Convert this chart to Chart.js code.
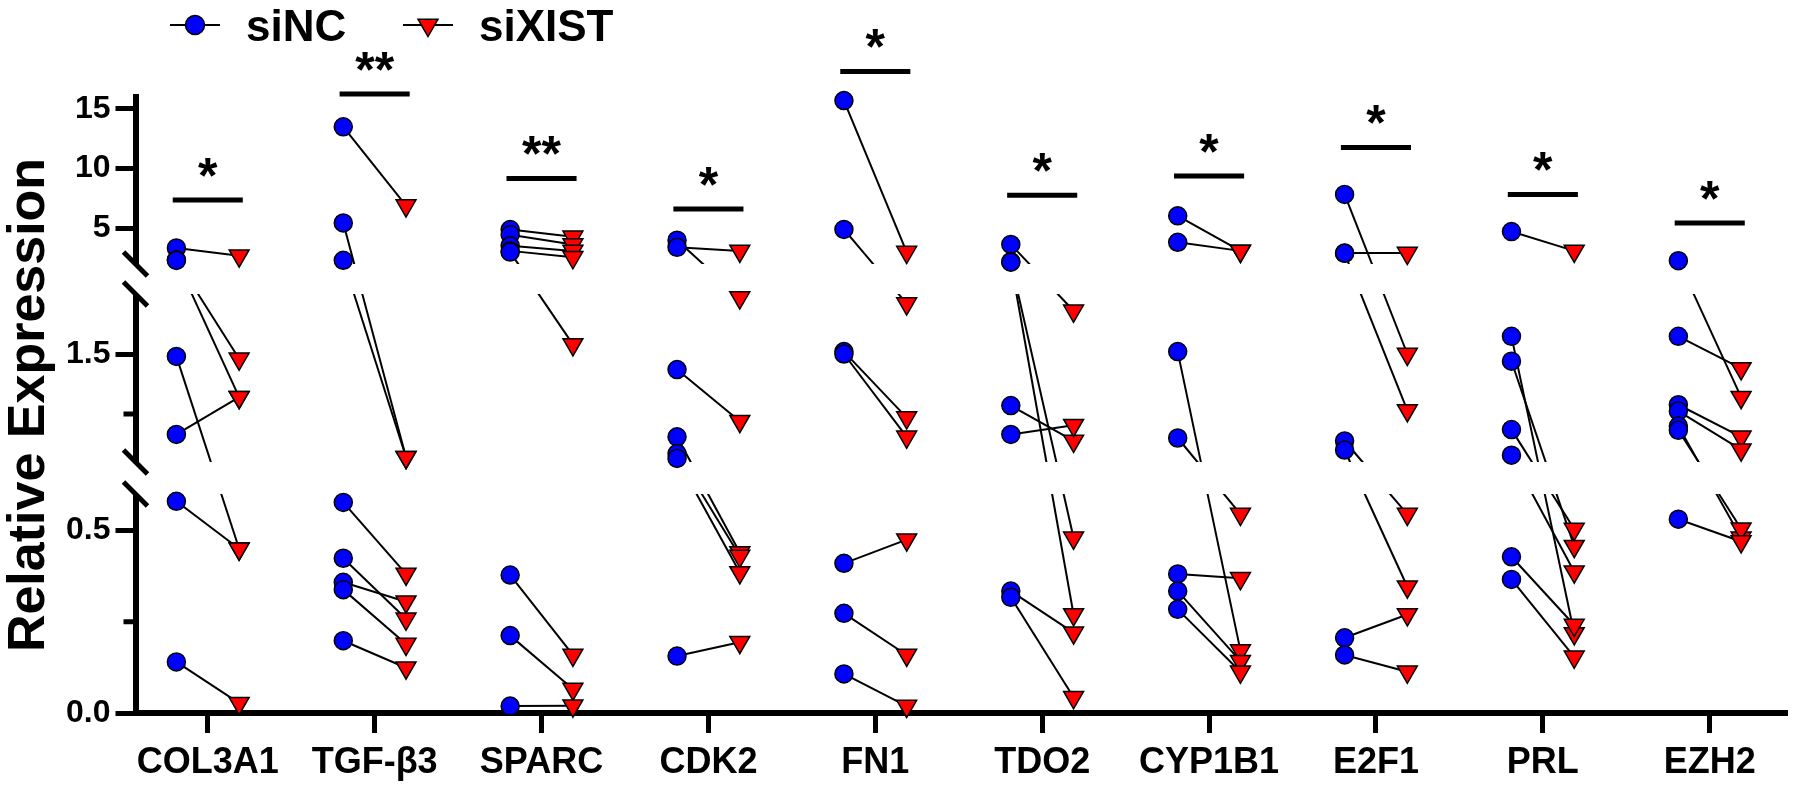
<!DOCTYPE html>
<html>
<head>
<meta charset="utf-8">
<script src="https://cdn.jsdelivr.net/npm/chart.js@4.4.1/dist/chart.umd.min.js"></script>
<style>
  html, body { margin: 0; padding: 0; background: #fff; }
  #wrap { width: 1800px; height: 787px; position: relative; }
</style>
</head>
<body>
<div id="wrap"><canvas id="myChart"></canvas></div>
<script>
// genes on the x axis
const genes = ['COL3A1', 'TGF-β3', 'SPARC', 'CDK2', 'FN1', 'TDO2', 'CYP1B1', 'E2F1', 'PRL', 'EZH2'];

// paired values: siNC[g][k] is joined to siXIST[g][k]
const siNC = [
  [3.34, 2.35, 2.3, 1.48, 0.83, 0.58, 0.14],
  [13.5, 5.44, 2.31, 0.577, 0.424, 0.358, 0.338, 0.198],
  [4.89, 4.46, 3.53, 3.1, 3.0, 0.378, 0.212, 0.019],
  [4.0, 3.4, 1.37, 0.81, 0.67, 0.63, 0.156],
  [15.7, 4.9, 1.52, 1.5, 0.41, 0.273, 0.107],
  [3.64, 2.2, 2.15, 1.07, 0.83, 0.334, 0.317],
  [6.04, 3.82, 1.52, 0.8, 0.381, 0.334, 0.284],
  [7.83, 2.92, 2.9, 0.775, 0.7, 0.206, 0.159],
  [4.72, 1.647, 1.44, 0.87, 0.657, 0.428, 0.366],
  [2.28, 1.647, 1.077, 1.024, 0.899, 0.864, 0.531]
];
const siXIST = [
  [2.7, 1.46, 1.14, 0.45, 1.14, 0.45, 0.027],
  [6.9, 0.64, 0.64, 0.381, 0.258, 0.305, 0.189, 0.124],
  [4.28, 3.64, 3.1, 2.56, 1.58, 0.159, 0.066, 0.02],
  [1.97, 3.1, 0.94, 0.44, 0.43, 0.385, 0.194],
  [3.0, 1.92, 0.97, 0.81, 0.475, 0.159, 0.019],
  [1.86, 0.48, 0.27, 0.776, 0.907, 0.22, 0.043],
  [3.1, 3.1, 0.171, 0.545, 0.369, 0.142, 0.113],
  [1.5, 2.92, 1.03, 0.545, 0.346, 0.27, 0.113],
  [3.1, 0.218, 0.457, 0.504, 0.387, 0.241, 0.154],
  [1.14, 1.38, 0.81, 0.703, 0.48, 0.505, 0.47]
];

// y ticks (labelled) and the small unlabelled ones
const yTicks = [0, 0.5, 1.5, 5, 10, 15];
const yMinorTicks = [0.25, 1];

// significance bars: height (in axis units) and mark
const sigLevel = [7.36, 16.25, 9.17, 6.61, 18.14, 7.76, 9.38, 11.77, 7.83, 5.43];
const sigMarks = ['*', '**', '**', '*', '*', '*', '*', '*', '*', '*'];

const FONT = "'Liberation Sans', Arial, sans-serif";
const OFFSET = 0.188;   // siNC left of the gene, siXIST right of it
const NC_COLOR = '#0000FF';
const XIST_COLOR = '#FF0000';

// y axis cut into segments, each one linear, with gaps between them
class SegmentedScale extends Chart.LinearScale {
  bands() {
    const segs = this.options.segments;
    let total = 0;
    for (const s of segs) total += s.size + (s.gap || 0);
    const unit = (this.bottom - this.top) / total;
    let y = this.bottom;
    const out = [];
    for (const s of segs) {
      const b = { from: s.from, to: s.to, bottom: y, top: y - s.size * unit };
      y = b.top - (s.gap || 0) * unit;
      out.push(b);
    }
    return out;
  }
  getPixelForValue(value) {
    if (value === null || value === undefined) return NaN;
    const bands = this.bands();
    let b = bands[bands.length - 1];
    for (const band of bands) {
      if (value <= band.to) { b = band; break; }
    }
    return b.bottom - (value - b.from) / (b.to - b.from) * (b.bottom - b.top);
  }
  getValueForPixel(pixel) {
    const bands = this.bands();
    for (const b of bands) {
      if (pixel >= b.top) return b.from + (b.bottom - pixel) / (b.bottom - b.top) * (b.to - b.from);
    }
    const b = bands[bands.length - 1];
    return b.from + (b.bottom - pixel) / (b.bottom - b.top) * (b.to - b.from);
  }
}
SegmentedScale.id = 'segmented';
SegmentedScale.defaults = Chart.LinearScale.defaults;
Chart.register(SegmentedScale);

// one line per pair
const pairLines = [];
genes.forEach((g, i) => {
  siNC[i].forEach((v, k) => {
    pairLines.push({
      type: 'line',
      isPair: true,
      data: [{ x: i - OFFSET, y: v }, { x: i + OFFSET, y: siXIST[i][k] }],
      borderColor: '#000',
      borderWidth: 2,
      pointRadius: 0,
      order: 1
    });
  });
});

const ncPoints = genes.flatMap((g, i) => siNC[i].map(v => ({ x: i - OFFSET, y: v })));
const xistPoints = genes.flatMap((g, i) => siXIST[i].map(v => ({ x: i + OFFSET, y: v })));

const pointSets = [
  {
    type: 'scatter', label: 'siXIST', data: xistPoints,
    pointStyle: 'triangle', pointRotation: 180, pointRadius: 11.5,
    pointBackgroundColor: XIST_COLOR, pointBorderColor: '#000', pointBorderWidth: 1.5,
    clip: false, order: 0
  },
  {
    type: 'scatter', label: 'siNC', data: ncPoints,
    pointStyle: 'circle', pointRadius: 9,
    pointBackgroundColor: NC_COLOR, pointBorderColor: '#000', pointBorderWidth: 1.5,
    clip: false, order: 0
  }
];

// gaps in the axis, break marks, minor ticks, significance bars and legend
const breaksPlugin = {
  id: 'breaks',
  beforeDatasetsDraw(chart) {
    const y = chart.scales.y, ctx = chart.ctx, bands = y.bands();
    ctx.save();
    ctx.fillStyle = '#fff';
    for (let k = 0; k < bands.length - 1; k++) {
      ctx.fillRect(y.right - 25, bands[k + 1].bottom, 32, bands[k].top - bands[k + 1].bottom);
    }
    ctx.restore();
  },
  beforeDatasetDraw(chart, args) {
    if (!chart.data.datasets[args.index].isPair) return;
    const ctx = chart.ctx, bands = chart.scales.y.bands();
    ctx.save();
    ctx.beginPath();
    bands.forEach((b, k) => {
      const top = k === bands.length - 1 ? 0 : b.top;
      const bottom = k === 0 ? chart.height : b.bottom;
      ctx.rect(0, top, chart.width, bottom - top);
    });
    ctx.clip();
  },
  afterDatasetDraw(chart, args) {
    if (chart.data.datasets[args.index].isPair) chart.ctx.restore();
  },
  afterDraw(chart) {
    const ctx = chart.ctx, x = chart.scales.x, y = chart.scales.y;
    const bands = y.bands();
    ctx.save();
    ctx.strokeStyle = '#000';
    ctx.fillStyle = '#000';

    // minor ticks
    ctx.lineWidth = 5;
    yMinorTicks.forEach(v => {
      const py = y.getPixelForValue(v);
      ctx.beginPath();
      ctx.moveTo(y.right - 12, py);
      ctx.lineTo(y.right - 2, py);
      ctx.stroke();
    });

    // break marks
    const cx = y.right;
    for (let k = 0; k < bands.length - 1; k++) {
      [bands[k].top, bands[k + 1].bottom].forEach(cy => {
        ctx.beginPath();
        ctx.moveTo(cx - 12, cy - 12);
        ctx.lineTo(cx + 12, cy + 12);
        ctx.stroke();
      });
    }

    // significance bars
    ctx.textAlign = 'center';
    ctx.textBaseline = 'alphabetic';
    ctx.font = 'bold 50px ' + FONT;
    genes.forEach((g, i) => {
      const py = y.getPixelForValue(sigLevel[i]);
      ctx.lineWidth = 5;
      ctx.beginPath();
      ctx.moveTo(x.getPixelForValue(i - 0.21), py);
      ctx.lineTo(x.getPixelForValue(i + 0.21), py);
      ctx.stroke();
      ctx.fillText(sigMarks[i], x.getPixelForValue(i), py - 7);
    });

    // legend
    const items = [
      { label: 'siNC', x: 170, style: 'circle', r: 9.5, rot: 0, color: NC_COLOR },
      { label: 'siXIST', x: 403, style: 'triangle', r: 11.5, rot: 180, color: XIST_COLOR }
    ];
    const ly = 25;
    ctx.textAlign = 'left';
    ctx.font = 'bold 44px ' + FONT;
    items.forEach(it => {
      ctx.lineWidth = 2;
      ctx.beginPath();
      ctx.moveTo(it.x, ly);
      ctx.lineTo(it.x + 50, ly);
      ctx.stroke();
      ctx.fillStyle = it.color;
      ctx.lineWidth = 1.5;
      Chart.helpers.drawPoint(ctx, { pointStyle: it.style, radius: it.r, rotation: it.rot, borderWidth: 1.5 }, it.x + 25, ly);
      ctx.fillStyle = '#000';
      ctx.fillText(it.label, it.x + 76, 41);
    });
    ctx.restore();
  }
};

const ctx = document.getElementById('myChart').getContext('2d');
const chart = new Chart(ctx, {
  data: { datasets: pointSets.concat(pairLines) },
  options: {
    responsive: true,
    maintainAspectRatio: false,
    animation: false,
    events: [],
    layout: { padding: { top: 97, right: 7, bottom: 0, left: 0 } },
    plugins: { legend: { display: false }, tooltip: { enabled: false } },
    scales: {
      x: {
        type: 'linear',
        min: -0.433,
        max: 9.463,
        afterBuildTicks: s => { s.ticks = genes.map((g, i) => ({ value: i })); },
        afterFit: s => { s.height = 74; },
        ticks: {
          autoSkip: false, maxRotation: 0, padding: 8, color: '#000',
          font: { family: FONT, size: 36, weight: 'bold' },
          callback: v => genes[v]
        },
        grid: { drawOnChartArea: false, drawTicks: true, tickLength: 20, tickWidth: 5, tickColor: '#000' },
        border: { color: '#000', width: 6 }
      },
      y: {
        type: 'segmented',
        min: 0,
        max: 16,
        segments: [
          { from: 0, to: 0.6, size: 219, gap: 32 },
          { from: 0.6, to: 2, size: 168, gap: 30 },
          { from: 2, to: 16, size: 167 }
        ],
        afterBuildTicks: s => { s.ticks = yTicks.map(v => ({ value: v })); },
        afterFit: s => { s.width = 135.5; },
        ticks: {
          autoSkip: false, padding: 5, color: '#000',
          font: { family: FONT, size: 32, weight: 'bold' },
          callback: v => (v === 0 ? '0.0' : String(v))
        },
        grid: { drawOnChartArea: false, drawTicks: true, tickLength: 20, tickWidth: 5, tickColor: '#000' },
        border: { color: '#000', width: 6 },
        title: {
          display: true, text: 'Relative Expression', color: '#000',
          font: { family: FONT, size: 52, weight: 'bold' },
          padding: { top: -2, bottom: 0 }
        }
      }
    }
  },
  plugins: [breaksPlugin]
});
</script>
</body>
</html>
